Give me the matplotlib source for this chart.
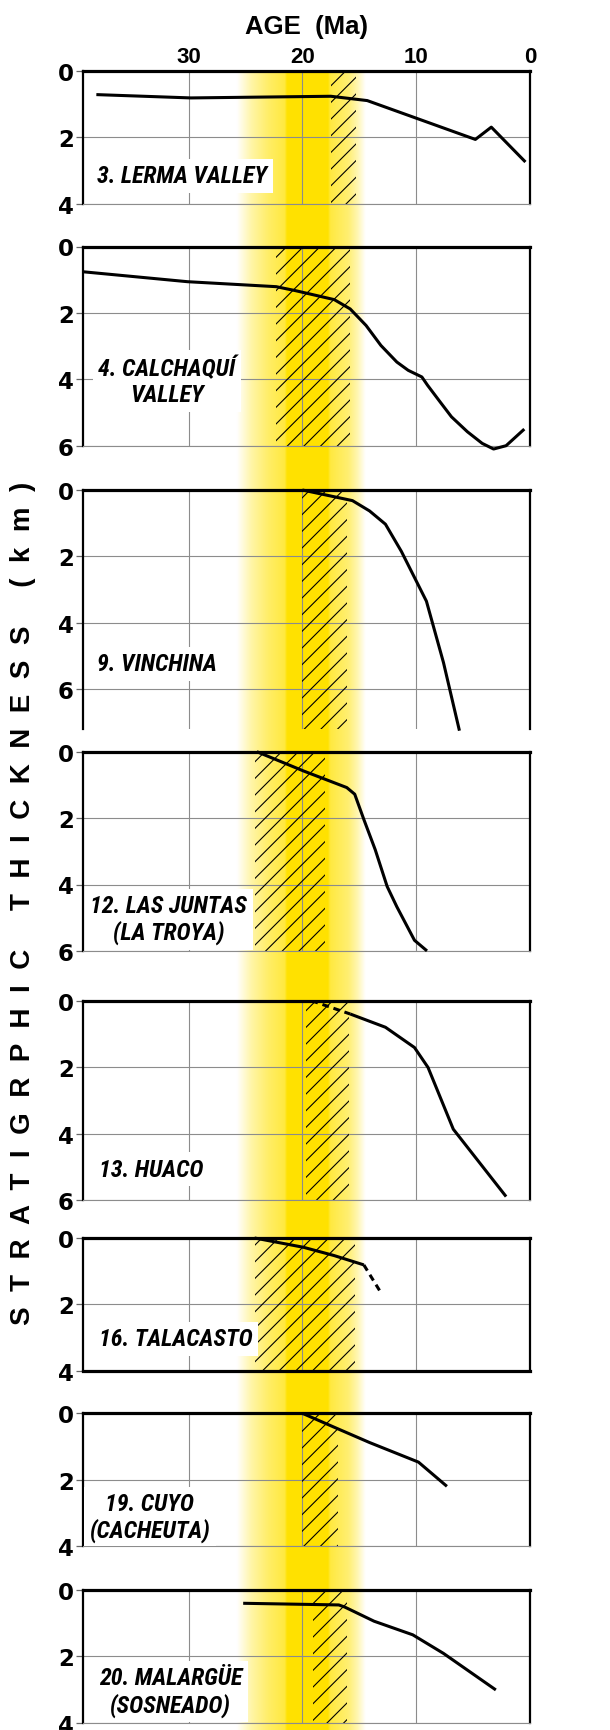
#!/usr/bin/env python3
"""
Stratigraphic thickness vs age for eight foreland-basin sections, stacked in
one column on a shared age axis, with the ~20 Ma yellow band and the hatched
interval of each section.
"""
import numpy as np
import matplotlib
matplotlib.use("Agg")
import matplotlib.pyplot as plt
from matplotlib import font_manager as fm
from matplotlib.transforms import blended_transform_factory

# ---- data (age in Ma, thickness in km) ----
LERMA_AGE = [38.1, 29.8, 17.5, 14.3, 4.8, 3.4, 0.4]
LERMA_KM = [0.72, 0.82, 0.77, 0.90, 2.07, 1.70, 2.75]

CALCHAQUI_AGE = [39.3, 30.1, 22.3, 20.6, 17.2, 15.8, 14.4, 13.1, 11.7, 10.7,
                 9.5, 9.0, 7.9, 6.9, 5.5, 4.2, 3.2, 2.1, 0.5]
CALCHAQUI_KM = [0.76, 1.06, 1.21, 1.33, 1.60, 1.88, 2.38, 2.98, 3.48, 3.73,
                3.93, 4.18, 4.68, 5.13, 5.58, 5.93, 6.10, 6.00, 5.50]

VINCHINA_AGE = [20.0, 15.6, 14.1, 12.7, 11.3, 9.1, 7.6, 6.2]
VINCHINA_KM = [0.0, 0.32, 0.63, 1.03, 1.85, 3.35, 5.20, 7.25]

JUNTAS_AGE = [24.0, 19.9, 16.1, 15.4, 14.6, 13.6, 12.55, 11.7, 10.15, 9.05]
JUNTAS_KM = [0.0, 0.58, 1.08, 1.28, 2.04, 2.95, 4.06, 4.67, 5.68, 6.0]

HUACO_AGE = [15.8, 12.7, 10.15, 8.96, 6.74, 2.1]
HUACO_KM = [0.40, 0.80, 1.41, 2.01, 3.87, 5.90]
HUACO_DASH_AGE = [19.2, 15.8]
HUACO_DASH_KM = [0.0, 0.40]

TALACASTO_AGE = [24.2, 19.9, 17.2, 14.6]
TALACASTO_KM = [0.0, 0.28, 0.53, 0.81]
TALACASTO_DASH_AGE = [14.6, 13.2]
TALACASTO_DASH_KM = [0.81, 1.59]

CUYO_AGE = [20.0, 17.2, 14.1, 9.8, 7.3]
CUYO_KM = [0.0, 0.42, 0.88, 1.47, 2.20]

MALARGUE_AGE = [25.2, 16.8, 16.3, 13.7, 10.3, 7.6, 3.0]
MALARGUE_KM = [0.40, 0.45, 0.51, 0.94, 1.35, 1.91, 3.01]

SECTIONS = ["3. LERMA VALLEY", "4. CALCHAQUÍ\nVALLEY", "9. VINCHINA",
            "12. LAS JUNTAS\n(LA TROYA)", "13. HUACO", "16. TALACASTO",
            "19. CUYO\n(CACHEUTA)", "20. MALARGÜE\n(SOSNEADO)"]
DEPTH_MAX = [4, 6, 7.2, 6, 6, 4, 4, 4]
# hatched interval (older, younger edge, Ma)
HATCH_OLD = [17.5, 22.3, 20.0, 24.2, 19.7, 24.2, 20.0, 19.1]
HATCH_YOUNG = [15.3, 15.8, 16.1, 18.05, 15.9, 15.4, 16.9, 16.1]

AGE_TICKS = [30, 20, 10, 0]
AGE_OLDEST = 39.3

# yellow band profile (age ascending, strength 0..1)
BAND_AGE = [14.5, 15.2, 16.0, 17.6, 17.8, 21.4, 21.6, 23.0, 24.5, 25.8]
BAND_STRENGTH = [0.0, 0.3, 0.55, 0.75, 1.0, 1.0, 0.75, 0.6, 0.35, 0.0]

SOLID = [(LERMA_AGE, LERMA_KM), (CALCHAQUI_AGE, CALCHAQUI_KM),
         (VINCHINA_AGE, VINCHINA_KM), (JUNTAS_AGE, JUNTAS_KM),
         (HUACO_AGE, HUACO_KM), (TALACASTO_AGE, TALACASTO_KM),
         (CUYO_AGE, CUYO_KM), (MALARGUE_AGE, MALARGUE_KM)]
DASHED = {4: (HUACO_DASH_AGE, HUACO_DASH_KM),
          5: (TALACASTO_DASH_AGE, TALACASTO_DASH_KM)}

# ---- layout (pixels of the 610x1731 canvas) ----
W, H = 610, 1731
AX_L, AX_R = 82.7, 530.0
PANEL_TOP = [71.7, 247.5, 491.0, 752.7, 1001.7, 1239.0, 1414.3, 1591.0]
KM_PX = 33.2
# label placement: (x in axes fraction, depth km, alignment)
LABEL_POS = [(0.033, 3.16, "left"), (0.188, 4.05, "center"),
             (0.033, 5.24, "left"), (0.192, 5.04, "center"),
             (0.037, 5.07, "left"), (0.037, 3.04, "left"),
             (0.15, 3.13, "center"), (0.197, 3.06, "center")]


def narrow_bold_italic():
    """Pick an installed condensed bold italic face (Arial Narrow look)."""
    prefs = ["Liberation Sans Narrow", "Roboto Condensed", "Open Sans Condensed",
             "Noto Sans", "Noto Sans Condensed"]
    cands = []
    for f in fm.fontManager.ttflist:
        w = f.weight if isinstance(f.weight, int) else fm.weight_dict.get(f.weight, 400)
        tag = (f.name + " " + f.fname).lower()
        narrow = "condensed" in str(f.stretch) or "narrow" in tag or "condensed" in tag
        if not (narrow and f.style in ("italic", "oblique") and 600 <= w <= 750):
            continue
        rank = prefs.index(f.name) if f.name in prefs else (8 if "DejaVu" in f.name else 6)
        if "semi" in tag or "extra" in tag or "ultra" in tag:
            rank += 0.5
        cands.append((rank, f.name, f.fname))
    if cands:
        cands.sort()
        rank, name, path = cands[0]
        size = 14.3 if "DejaVu" in name else 17.3
        return fm.FontProperties(fname=path, size=size)
    return fm.FontProperties(family="Liberation Sans", style="italic",
                             weight="bold", size=14.5)


LABEL_FONT = narrow_bold_italic()

plt.rcParams["font.family"] = ["Liberation Sans", "DejaVu Sans"]
plt.rcParams["font.weight"] = "bold"
plt.rcParams["hatch.linewidth"] = 0.8

fig = plt.figure(figsize=(W / 100, H / 100), dpi=100)
axw = (AX_R - AX_L) / W

# yellow band behind everything, from top of first panel to bottom edge
bg = fig.add_axes([AX_L / W, 0, axw, 1 - PANEL_TOP[0] / H], zorder=0)
xs = np.linspace(AGE_OLDEST, 0, 900)
a = np.interp(xs, BAND_AGE, BAND_STRENGTH)
yellow = np.array([1.0, 0.886, 0.0])
img = 1 - a[None, :, None] * (1 - yellow[None, None, :])
bg.imshow(img, extent=(AGE_OLDEST, 0, 0, 1), aspect="auto", interpolation="bilinear")
bg.set_xlim(AGE_OLDEST, 0)
bg.set_ylim(0, 1)
bg.axis("off")

for i, name in enumerate(SECTIONS):
    dmax = DEPTH_MAX[i]
    top = PANEL_TOP[i]
    bot = top + dmax * KM_PX
    ax = fig.add_axes([AX_L / W, 1 - bot / H, axw, (bot - top) / H], zorder=1)
    ax.set_facecolor("none")
    ax.set_xlim(AGE_OLDEST, 0)
    ax.set_ylim(dmax, 0)
    ax.set_xticks(AGE_TICKS)
    ax.set_yticks(list(range(0, int(dmax) + 1, 2)))
    ax.set_axisbelow(True)
    ax.grid(True, color="#8c8c8c", linewidth=0.8)
    ax.tick_params(axis="x", length=0, labelbottom=False, labeltop=(i == 0),
                   labelsize=16, pad=3)
    ax.tick_params(axis="y", length=5, width=0.9, color="#666666", pad=1.5)
    for t in ax.get_yticklabels():
        t.set_fontfamily("DejaVu Sans")
        t.set_fontsize(16.5)

    ax.spines["top"].set_linewidth(2.3)
    ax.spines["left"].set_linewidth(1.6)
    ax.spines["right"].set_linewidth(1.6)
    if i == 5:
        ax.spines["bottom"].set_linewidth(2.3)
    elif i == 2:
        ax.spines["bottom"].set_visible(False)
    else:
        ax.spines["bottom"].set_color("#8c8c8c")
        ax.spines["bottom"].set_linewidth(0.8)

    ax.fill_betweenx([0, dmax], HATCH_OLD[i], HATCH_YOUNG[i], facecolor="none",
                     edgecolor="black", hatch="//", linewidth=0, zorder=1.5)

    age, km = SOLID[i]
    ax.plot(age, km, color="black", lw=2.2, solid_joinstyle="round",
            solid_capstyle="butt", zorder=4, clip_on=False)
    if i in DASHED:
        dage, dkm = DASHED[i]
        ax.plot(dage, dkm, color="black", lw=2.2, ls=(0, (2.2, 1.6)), zorder=4)

    lx, ly, ha = LABEL_POS[i]
    tr = blended_transform_factory(ax.transAxes, ax.transData)
    ax.text(lx, ly, name, transform=tr, ha=ha, va="center",
            fontproperties=LABEL_FONT, linespacing=1.15, zorder=3, clip_on=True,
            bbox=dict(facecolor="white", edgecolor="none", pad=4))

    if i == 0:
        ax.xaxis.set_label_position("top")
        ax.set_xlabel("AGE  (Ma)", fontsize=18.5, fontweight="bold", labelpad=9)

fig.text(23 / W, 1 - 903 / H,
         "S  T  R  A  T  I  G  R  P  H  I  C     T  H  I  C  K  N  E  S  S     (  k  m  )",
         rotation=90, ha="center", va="center", fontsize=20, fontweight="bold")

fig.savefig("out.png", dpi=100)
